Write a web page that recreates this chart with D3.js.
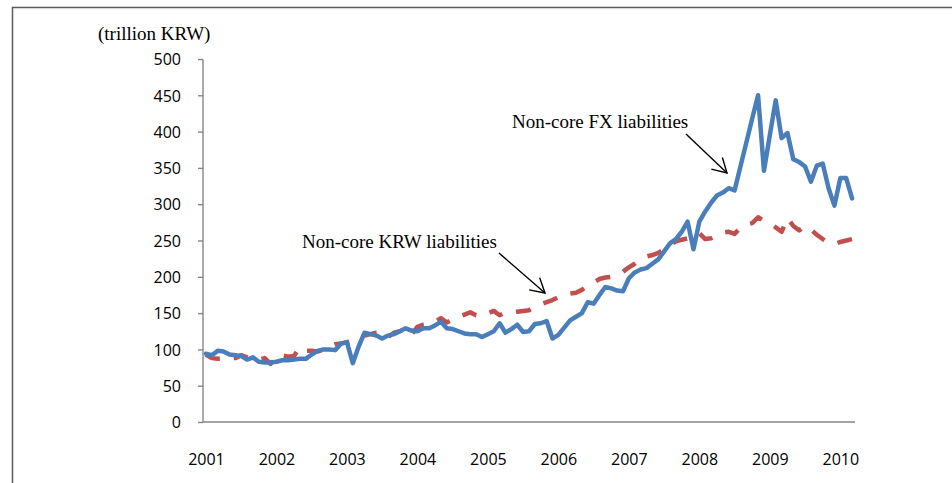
<!DOCTYPE html>
<html>
<head>
<meta charset="utf-8">
<script src="https://cdn.jsdelivr.net/npm/d3@7"></script>
<style>
  html, body { margin: 0; padding: 0; background: #fff; }
  svg { display: block; }
</style>
</head>
<body>
<svg id="chart" width="952" height="483"></svg>
<script>
// Monthly data, Jan 2001 – Mar 2010 (trillion KRW)
const years = ["2001","2002","2003","2004","2005","2006","2007","2008","2009","2010"];
const yTicks = [0,50,100,150,200,250,300,350,400,450,500];
const unitLabel = "(trillion KRW)";
const labelFX = "Non-core FX liabilities";
const labelKRW = "Non-core KRW liabilities";

const fxLiabilities = [
  94,92,98,97,93,92,91,86,89,83,82,82,
  83,85,85,86,87,87,93,98,100,100,99,108,
  110,81,104,123,121,119,115,119,121,125,129,126,
  125,129,129,133,138,129,128,125,122,121,121,117,
  121,125,136,123,128,134,124,125,135,136,139,115,
  120,130,140,145,150,165,163,175,186,184,181,180,
  198,206,210,212,218,224,235,246,252,262,276,238,
  276,290,302,312,316,322,319,352,385,418,450,346,
  395,443,391,398,362,358,352,331,353,356,322,298,
  336,336,308
];
const krwLiabilities = [
  93,88,87,87,88,88,92,89,87,86,88,80,
  91,92,90,91,103,98,98,97,100,104,107,108,
  110,112,116,119,121,123,124,117,123,125,128,120,
  131,134,136,138,143,137,141,145,148,151,147,146,
  150,153,147,151,151,152,153,154,158,162,165,168,
  172,176,177,178,182,188,192,197,199,200,202,207,
  213,218,224,228,230,233,238,244,249,251,253,256,
  260,252,253,257,261,262,259,268,272,274,282,277,
  274,268,262,281,270,264,270,265,258,252,247,245,
  248,250,252
];

const months = d3.range(fxLiabilities.length);
const svg = d3.select("#chart");

svg.append("rect").attr("width", 952).attr("height", 483).attr("fill", "#fff");

// outer frame (top and left edges visible)
svg.append("path")
  .attr("d", "M12.5,483 L12.5,7.5 L952,7.5")
  .attr("fill", "none").attr("stroke", "#5a5a5a").attr("stroke-width", 1.5);

const x = d3.scalePoint().domain(months).range([203, 855]).padding(0.5);
const y = d3.scaleLinear().domain([0, 500]).range([422, 59]);

const font = "'Open Sans', 'Liberation Sans', sans-serif";

// Y axis
const yAxis = svg.append("g").attr("transform", "translate(203,0)")
  .call(d3.axisLeft(y).tickValues(yTicks).tickSize(5).tickPadding(17).tickFormat(d3.format("d")));
yAxis.select(".domain").attr("stroke", "#868686").attr("stroke-width", 1.4).attr("d", "M0,59.5V422");
yAxis.selectAll(".tick line").attr("stroke", "#868686").attr("stroke-width", 1.4);
yAxis.selectAll(".tick text").attr("font-family", font).attr("font-size", 16).attr("fill", "#000").attr("dy", "0.36em");

// X axis
const xAxis = svg.append("g").attr("transform", "translate(0,422)")
  .call(d3.axisBottom(x)
    .tickValues(years.map((yr, k) => k * 12))
    .tickSize(0).tickPadding(32)
    .tickFormat(d => years[d / 12]));
xAxis.select(".domain").attr("stroke", "#868686").attr("stroke-width", 1.4).attr("d", "M203,0H855");
xAxis.selectAll(".tick text").attr("font-family", font).attr("font-size", 16).attr("fill", "#000");

// unit label
svg.append("text").attr("x", 98).attr("y", 40)
  .attr("font-family", "'Liberation Serif', 'Times New Roman', serif").attr("font-size", 19)
  .text(unitLabel);

const line = d3.line().x((d, i) => x(i)).y(d => y(d));

svg.append("path").datum(krwLiabilities)
  .attr("d", line).attr("fill", "none")
  .attr("stroke", "#c0504d").attr("stroke-width", 4.5)
  .attr("stroke-dasharray", "15,14").attr("stroke-linejoin", "round");

svg.append("path").datum(fxLiabilities)
  .attr("d", line).attr("fill", "none")
  .attr("stroke", "#4a7ebb").attr("stroke-width", 4.5)
  .attr("stroke-linejoin", "round").attr("stroke-linecap", "round");

// arrows
const defs = svg.append("defs");
defs.append("marker").attr("id", "arr")
  .attr("markerUnits", "userSpaceOnUse").attr("orient", "auto")
  .attr("viewBox", "-16 -10 18 20").attr("markerWidth", 18).attr("markerHeight", 20)
  .attr("refX", 0).attr("refY", 0)
  .append("path").attr("d", "M-14,-8 L0,0 L-14,8")
  .attr("fill", "none").attr("stroke", "#000").attr("stroke-width", 1.4);

svg.append("line").attr("x1", 686).attr("y1", 134).attr("x2", 727).attr("y2", 173)
  .attr("stroke", "#000").attr("stroke-width", 1.4).attr("marker-end", "url(#arr)");
svg.append("line").attr("x1", 499).attr("y1", 253).attr("x2", 545).attr("y2", 293)
  .attr("stroke", "#000").attr("stroke-width", 1.4).attr("marker-end", "url(#arr)");

const serif = "'Liberation Serif', 'Times New Roman', serif";
svg.append("text").attr("x", 512).attr("y", 128)
  .attr("font-family", serif).attr("font-size", 19).text(labelFX);
svg.append("text").attr("x", 302).attr("y", 248)
  .attr("font-family", serif).attr("font-size", 19).text(labelKRW);
</script>
</body>
</html>
